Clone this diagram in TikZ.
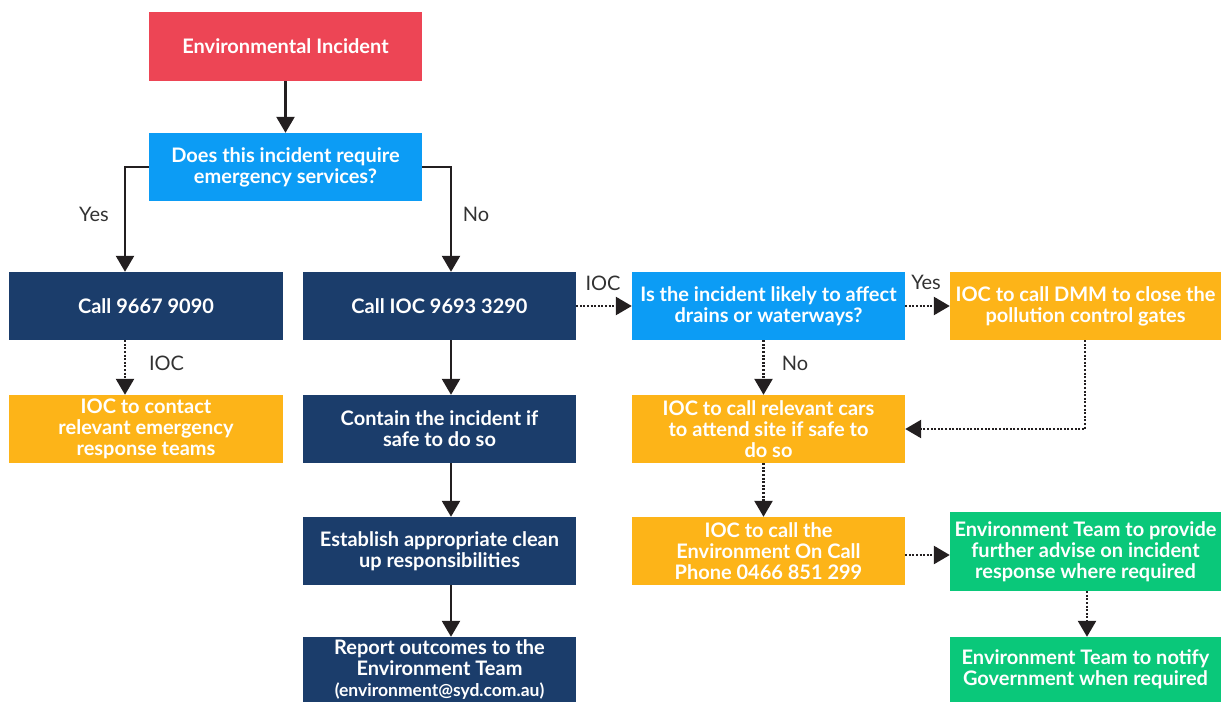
\documentclass[tikz,border=0pt]{standalone}
\usepackage{fontspec}
\setmainfont{Lato}
\usetikzlibrary{arrows.meta}
\definecolor{cred}{RGB}{237,69,85}
\definecolor{cblue}{RGB}{12,156,245}
\definecolor{cnavy}{RGB}{27,61,107}
\definecolor{corange}{RGB}{253,180,24}
\definecolor{cgreen}{RGB}{10,200,122}
\definecolor{cline}{RGB}{35,31,32}
\definecolor{clabel}{RGB}{50,50,50}
\begin{document}
\begin{tikzpicture}[x=1pt,y=-1pt,
  box/.style={rectangle, inner sep=0pt, minimum width=273pt, minimum height=68pt, align=center, text=white,
    font=\bfseries\fontsize{20}{20.8}\selectfont},
  solidarrow/.style={draw=cline, line width=2.5pt, -{Triangle[width=18pt,length=16pt]}},
  dotarrow/.style={draw=cline, line width=2.5pt, dash pattern=on 2pt off 1.6pt, -{Triangle[width=18pt,length=16pt]}},
  lbl/.style={text=clabel, font=\fontsize{20}{22}\selectfont, inner sep=0pt}]
\useasboundingbox (0,0) rectangle (1221,702);
% nodes
\node[box, fill=cred, minimum height=69pt] (env) at (285.5,46.5) {Environmental Incident};
\node[box, fill=cblue] (q) at (285.5,167) {Does this incident require\\emergency services?};
\node[box, fill=cnavy, minimum width=274pt] (c1) at (146,306) {Call 9667 9090};
\node[box, fill=cnavy] (c2) at (439.5,306) {Call IOC 9693 3290};
\node[box, fill=cblue] (q2) at (768.5,306) {Is the incident likely to affect\\drains or waterways?};
\node[box, fill=corange, minimum width=271pt] (dmm) at (1085.5,306) {IOC to call DMM to close the\\pollution control gates};
\node[box, fill=corange, minimum width=274pt] (ioc1) at (146,429) {IOC to contact\\relevant emergency\\response teams};
\node[box, fill=cnavy] (contain) at (439.5,429) {Contain the incident if\\safe to do so};
\node[box, fill=corange] (cars) at (768.5,429) {IOC to call relevant cars\\to attend site if safe to\\do so};
\node[box, fill=cnavy] (estab) at (439.5,551) {Establish appropriate clean\\up responsibilities};
\node[box, fill=corange] (oncall) at (768.5,551) {IOC to call the\\Environment On Call\\Phone 0466 851 299};
\node[box, fill=cgreen, minimum width=271pt, minimum height=79pt] (provide) at (1085.5,551.5) {Environment Team to provide\\further advise on incident\\response where required};
\node[box, fill=cnavy, minimum height=65pt] (report) at (439.5,669.5) {Report outcomes to the\\Environment Team\\{\fontsize{17.5}{19}\selectfont (environment@syd.com.au)}};
\node[box, fill=cgreen, minimum width=271pt, minimum height=65pt] (notify) at (1085.5,669.5) {Environment Team to notify\\Government when required};
% helper x positions
\coordinate (xa) at (125,0);
\coordinate (xb) at (451,0);
\coordinate (xc) at (763.5,0);
\coordinate (xd) at (1085,0);
\coordinate (xe) at (1087,0);
\coordinate (ya) at (0,555);
% connectors
\draw[solidarrow] (env.south) -- (q.north);
\draw[solidarrow] (q.west) -| (xa |- c1.north);
\draw[solidarrow] (q.east) -| (xb |- c2.north);
\draw[solidarrow] (xb |- c2.south) -- (xb |- contain.north);
\draw[solidarrow] (xb |- contain.south) -- (xb |- estab.north);
\draw[solidarrow] (xb |- estab.south) -- (xb |- report.north);
\draw[dotarrow] (xa |- c1.south) -- (xa |- ioc1.north);
\draw[dotarrow] (c2.east) -- (q2.west);
\draw[dotarrow] (q2.east) -- (dmm.west);
\draw[dotarrow] (xc |- q2.south) -- (xc |- cars.north);
\draw[dotarrow] (xd |- dmm.south) |- (cars.east);
\draw[dotarrow] (xc |- cars.south) -- (xc |- oncall.north);
\draw[dotarrow] (oncall.east |- ya) -- (provide.west |- ya);
\draw[dotarrow] (xe |- provide.south) -- (xe |- notify.north);
% labels
\node[lbl] (lyes) at (94,214) {Yes};
\node[lbl] (lno) at (476,214) {No};
\node[lbl] (lioc1) at (166.5,363) {IOC};
\node[lbl] (lioc2) at (603,283) {IOC};
\node[lbl] (lyes2) at (926,282) {Yes};
\node[lbl] (lno2) at (795,363) {No};
\end{tikzpicture}
\end{document}
